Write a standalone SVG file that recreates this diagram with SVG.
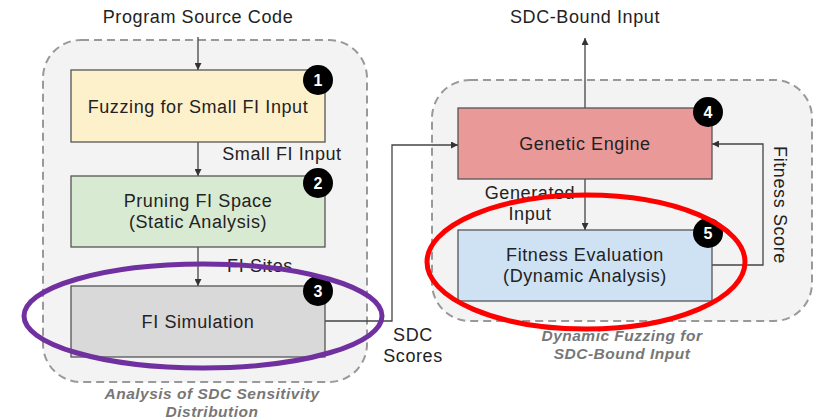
<svg xmlns="http://www.w3.org/2000/svg" width="818" height="420" viewBox="0 0 818 420">
<defs>
<style>
.t{font-family:"Liberation Sans",Arial,sans-serif;font-size:18px;letter-spacing:0.6px;fill:#222;text-anchor:middle}
.c{font-family:"Liberation Sans",Arial,sans-serif;font-size:15.5px;letter-spacing:0.5px;font-style:italic;font-weight:bold;fill:#777;text-anchor:middle}
.b{font-family:"Liberation Sans",Arial,sans-serif;font-size:16px;font-weight:bold;fill:#fff;text-anchor:middle}
.box{stroke:#555;stroke-width:1.3}
.cont{fill:#f3f3f3;stroke:#999;stroke-width:2;stroke-dasharray:8 5}
.ln{fill:none;stroke:#444;stroke-width:1.3}
</style>
<marker id="ah" viewBox="0 0 10 10" refX="10" refY="5" markerWidth="7" markerHeight="7" orient="auto" markerUnits="userSpaceOnUse">
<path d="M0,0 L10,5 L0,10 z" fill="#333"/>
</marker>
</defs>
<rect width="818" height="420" fill="#fff"/>
<g id="containers">
<rect class="cont" x="43" y="40" width="324" height="342" rx="38"/>
<rect class="cont" x="432" y="80" width="380" height="241" rx="38"/>
<text class="c" x="212" y="399">Analysis of SDC Sensitivity</text>
<text class="c" x="212" y="417">Distribution</text>
<text class="c" x="622" y="341">Dynamic Fuzzing for</text>
<text class="c" x="622" y="359">SDC-Bound Input</text>
</g>
<g id="connectors">
<line class="ln" x1="198" y1="37" x2="198" y2="70" marker-end="url(#ah)"/>
<line class="ln" x1="198" y1="142" x2="198" y2="176" marker-end="url(#ah)"/>
<line class="ln" x1="198" y1="247" x2="198" y2="286" marker-end="url(#ah)"/>
<polyline class="ln" points="325,321 392,321 392,145 458,145" marker-end="url(#ah)"/>
<line class="ln" x1="585" y1="108" x2="585" y2="38" marker-end="url(#ah)"/>
<line class="ln" x1="585" y1="179" x2="585" y2="230" marker-end="url(#ah)"/>
<polyline class="ln" points="712,265 763,265 763,144 712,144" marker-end="url(#ah)"/>
<text class="t" x="282" y="160">Small FI Input</text>
<text class="t" x="260" y="272">FI Sites</text>
<text class="t" x="413" y="341">SDC</text>
<text class="t" x="413" y="362">Scores</text>
<text class="t" x="530" y="199">Generated</text>
<text class="t" x="530" y="220">Input</text>
<text class="t" transform="translate(774,205) rotate(90)">Fitness Score</text>
<text class="t" x="198" y="23">Program Source Code</text>
<text class="t" x="585" y="23">SDC-Bound Input</text>
</g>
<g id="n1">
<rect class="box" x="71" y="70" width="254" height="72" fill="#fdf1cc"/>
<text class="t" x="198" y="113">Fuzzing for Small FI Input</text>
<circle cx="318" cy="80" r="15" fill="#000"/>
<text class="b" x="318" y="86">1</text>
</g>
<g id="n2">
<rect class="box" x="71" y="176" width="254" height="71" fill="#d9ead3"/>
<text class="t" x="198" y="207">Pruning FI Space</text>
<text class="t" x="198" y="228">(Static Analysis)</text>
<circle cx="318" cy="183" r="15" fill="#000"/>
<text class="b" x="318" y="189">2</text>
</g>
<g id="n3">
<rect class="box" x="71" y="286" width="254" height="71" fill="#d9d9d9"/>
<text class="t" x="198" y="328">FI Simulation</text>
<circle cx="318" cy="291" r="15" fill="#000"/>
<text class="b" x="318" y="297">3</text>
</g>
<g id="n4">
<rect class="box" x="458" y="108" width="254" height="71" fill="#ea9999"/>
<text class="t" x="585" y="150">Genetic Engine</text>
<circle cx="708" cy="112" r="15" fill="#000"/>
<text class="b" x="708" y="118">4</text>
</g>
<g id="n5">
<rect class="box" x="458" y="230" width="254" height="71" fill="#cfe2f3"/>
<text class="t" x="585" y="261">Fitness Evaluation</text>
<text class="t" x="585" y="282">(Dynamic Analysis)</text>
<circle cx="708" cy="233" r="15" fill="#000"/>
<text class="b" x="708" y="239">5</text>
</g>
<g id="highlights">
<ellipse cx="203" cy="316" rx="179" ry="52" fill="none" stroke="#7030a0" stroke-width="5"/>
<ellipse cx="586" cy="262" rx="159" ry="67" fill="none" stroke="#ff0000" stroke-width="5"/>
</g>
</svg>
